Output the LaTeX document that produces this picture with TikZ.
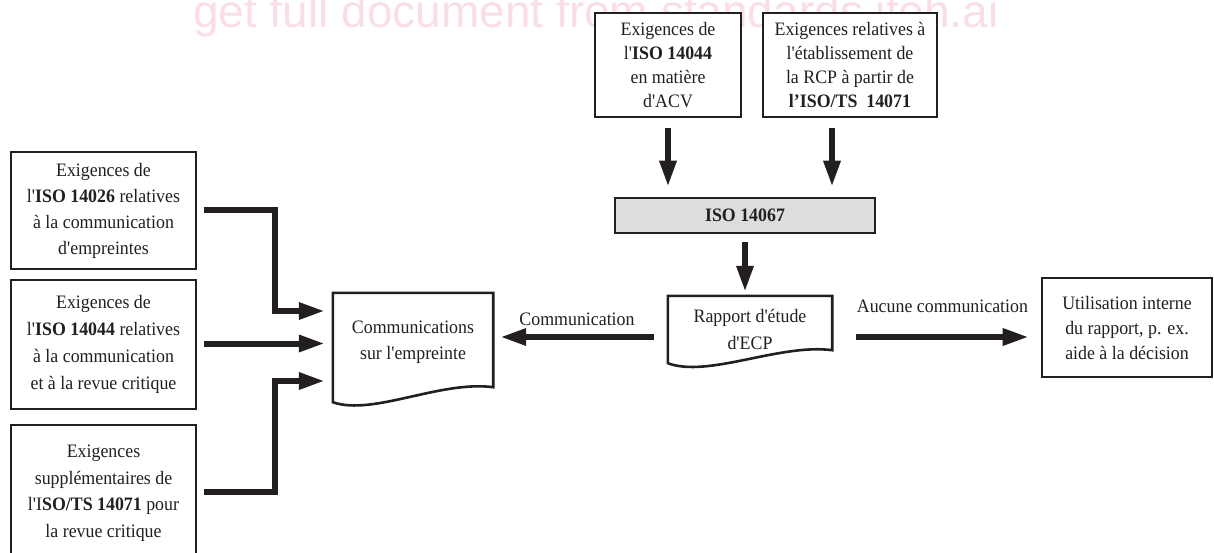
\documentclass[tikz,border=0pt]{standalone}
\usepackage{fontspec}
\setmainfont[Ligatures=TeXOff,FakeStretch=0.94]{Liberation Serif}
\newfontfamily\wmfont{Liberation Sans}
\usetikzlibrary{arrows.meta,calc}
\definecolor{ink}{RGB}{35,31,32}
\definecolor{wmpink}{RGB}{250,222,231}
\definecolor{isogray}{RGB}{220,221,223}
\begin{document}
\begin{tikzpicture}[x=1pt,y=-1pt,
  every node/.style={font=\fontsize{19}{24}\selectfont, text=ink},
  box/.style={draw=ink, line width=2.6pt, fill=white, align=center, inner sep=0pt},
  arr/.style={draw=ink, line width=6pt, line join=miter, -{Triangle[length=26pt,width=16pt]}},
  docshape/.style={draw=ink, line width=2.6pt, line join=miter}
]
\useasboundingbox (0,0) rectangle (1214,553);
\clip (0,0) rectangle (1214,553);

% watermark
\node[anchor=base west, inner sep=0pt, font=\wmfont\fontsize{46}{46}\selectfont, text=wmpink] (wm) at (193,28) {get full document from standards.iteh.ai};

% top boxes
\node[box, minimum width=146pt, minimum height=104pt] (t1) at (668,65)
  {Exigences de\\l'\textbf{ISO 14044}\\en matière\\d'ACV};
\node[box, minimum width=174pt, minimum height=104pt] (t2) at (850,65)
  {Exigences relatives à\\l'établissement de\\la RCP à partir de\\\textbf{l’ISO/TS\ \ 14071}};

% ISO 14067
\node[box, fill=isogray, minimum width=260pt, minimum height=35pt, font=\fontsize{19}{24}\selectfont\bfseries] (iso) at (745,215.5) {ISO 14067};

% Rapport (document shape)
\node[inner sep=0pt, minimum width=164pt, minimum height=66pt, align=center, font=\fontsize{19}{27}\selectfont] (rap) at (750,329) {Rapport d'étude\\d'ECP};
\draw[docshape] ($(rap.south west)+(0,1)$) -- (rap.north west) -- (rap.north east) -- ($(rap.south east)+(0,-12)$)
  .. controls ($(rap.south east)+(-52,-19)$) and ($(rap.south west)+(40,16)$) .. ($(rap.south west)+(0,1)$) -- cycle;

% Communications (document shape)
\node[inner sep=0pt, minimum width=160pt, minimum height=98pt, align=center, font=\fontsize{19}{26}\selectfont] (comm) at (413,342) {Communications\\sur l'empreinte};
\draw[docshape] ($(comm.south west)+(0,11)$) -- (comm.north west) -- (comm.north east) -- ($(comm.south east)+(0,-4)$)
  .. controls ($(comm.south east)+(-53,-11)$) and ($(comm.south west)+(40,25)$) .. ($(comm.south west)+(0,11)$) -- cycle;

% Utilisation interne
\node[box, minimum width=170pt, minimum height=99pt, font=\fontsize{19}{25}\selectfont] (ut) at (1127,327.5)
  {Utilisation interne\\du rapport, p. ex.\\aide à la décision};

% left boxes
\node[box, minimum width=185pt, minimum height=117pt, font=\fontsize{19}{26}\selectfont] (b1) at (103.5,210.5)
  {Exigences de\\l'\textbf{ISO 14026} relatives\\à la communication\\d'empreintes};
\node[box, minimum width=185pt, minimum height=129pt, font=\fontsize{19}{27}\selectfont] (b2) at (103.5,344.5)
  {Exigences de\\l'\textbf{ISO 14044} relatives\\à la communication\\et à la revue critique};
\node[box, minimum width=185pt, minimum height=136pt, font=\fontsize{19}{26.5}\selectfont] (b3) at (103.5,493)
  {Exigences\\supplémentaires de\\l'I\textbf{SO/TS 14071} pour\\la revue critique};

% top arrows
\draw[arr] ($(t1.south)+(0,10)$) -- ($(t1.south |- iso.north)+(0,-10)$);
\draw[arr] ($(t2.south)+(-18,10)$) -- ($(t2.south |- iso.north)+(-18,-10)$);
\draw[arr] ($(iso.south)+(0,8)$) -- ($(iso.south |- rap.north)+(0,-4)$);

% horizontal arrows from report
\draw[arr] ($(rap.west)+(-14,8)$) -- ($(rap.west -| comm.east)+(7,8)$)
  node[midway, yshift=18pt] (lcom) {Communication};
\draw[arr] ($(rap.east)+(24,8)$) -- ($(rap.east -| ut.west)+(-12,8)$)
  node[midway, yshift=31pt] (lauc) {Aucune communication};

% left connectors
\draw[arr] ($(b1.east)+(7,0)$) -- ($(b1.east)+(78,0)$) |- ($(comm.west)+(-8,-31)$);
\draw[arr] ($(b2.east)+(7,-1)$) -- ($(b2.east -| comm.west)+(-8,-1)$);
\draw[arr] ($(b3.east)+(7,-1)$) -- ($(b3.east)+(78,-1)$) |- ($(comm.west)+(-8,39)$);
\end{tikzpicture}
\end{document}
